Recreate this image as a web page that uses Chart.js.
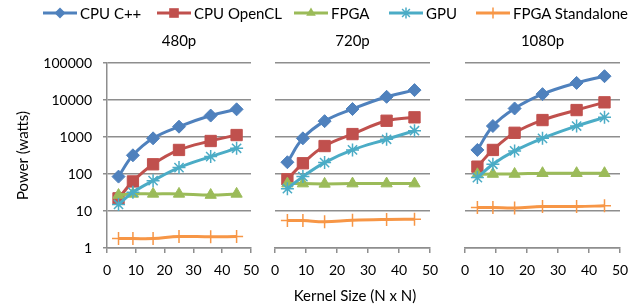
<!DOCTYPE html>
<html><head><meta charset="utf-8">
<script src="https://cdn.jsdelivr.net/npm/chart.js@4"></script>
<style>
html,body{margin:0;padding:0;background:#fff;}
#wrap{position:relative;width:635px;height:308px;overflow:hidden;font-family:Lato, "Open Sans", sans-serif;color:#000;}
canvas.c{position:absolute;left:0;top:0;}
.t{position:absolute;font-size:15px;white-space:nowrap;transform:translate(-50%,-50%);line-height:1;}
.lg{position:absolute;top:13px;transform:translateY(-50%);display:flex;align-items:center;font-size:15px;white-space:nowrap;line-height:1;}
.lg canvas{margin-right:3px;}
</style></head><body>
<div id="wrap">
  <canvas id="c1" class="c" width="635" height="308"></canvas>
  <canvas id="c2" class="c" width="635" height="308"></canvas>
  <canvas id="c3" class="c" width="635" height="308"></canvas>
  <div id="legend"></div>
  <div id="titles"></div>
  <div class="t" style="left:355px;top:295px;">Kernel Size (N x N)</div>
</div>
<script>
// ---- data ----
const kernelSizes = [4, 9, 16, 25, 36, 45];
const panelTitles = ['480p', '720p', '1080p'];
const seriesNames = ['CPU C++', 'CPU OpenCL', 'FPGA', 'GPU', 'FPGA Standalone'];
const yTickValues = [1, 10, 100, 1000, 10000, 100000];
const xTickValues = [0, 10, 20, 30, 40, 50];

const cpuCpp480  = [85, 320, 920, 1900, 3800, 5600];
const cpuOcl480  = [22, 63, 183, 447, 780, 1130];
const fpga480    = [27, 29, 29, 29, 27, 29];
const gpu480     = [15, 32, 66, 149, 295, 495];
const fpgaSa480  = [1.8, 1.8, 1.8, 2.05, 2.0, 2.05];

const cpuCpp720  = [208, 920, 2680, 5700, 12200, 18500];
const cpuOcl720  = [72, 195, 570, 1200, 2750, 3400];
const fpga720    = [55, 55, 54, 55, 55, 55];
const gpu720     = [40, 85, 203, 447, 868, 1480];
const fpgaSa720  = [5.5, 5.5, 5.1, 5.6, 5.9, 6.0];

const cpuCpp1080 = [447, 1980, 5900, 14400, 29000, 44000];
const cpuOcl1080 = [158, 447, 1300, 2870, 5350, 8650];
const fpga1080   = [98, 100, 100, 105, 105, 105];
const gpu1080    = [80, 183, 420, 920, 1980, 3400];
const fpgaSa1080 = [12.4, 12.4, 12.0, 13.2, 13.2, 13.8];

const panelSeries = [
  [cpuCpp480, cpuOcl480, fpga480, gpu480, fpgaSa480],
  [cpuCpp720, cpuOcl720, fpga720, gpu720, fpgaSa720],
  [cpuCpp1080, cpuOcl1080, fpga1080, gpu1080, fpgaSa1080]
];

// ---- styles ----
const seriesStyle = [
  {color: '#4F81BD', point: 'rectRot',  r: 6.5, bw: 1},
  {color: '#C0504D', point: 'rect',     r: 8,   bw: 1},
  {color: '#9BBB59', point: 'triangle', r: 6.5, bw: 1},
  {color: '#4BACC6', point: 'star',     r: 6.5, bw: 1.5},
  {color: '#F79646', point: 'cross',    r: 6.5, bw: 1.5}
];
const FONT = 'Lato, "Open Sans", sans-serif';
const GRID = '#8e8e8e';
// plot areas [left, right] in px
const plotX = [[107, 251], [275, 430], [465, 620]];
const plotTop = 63, plotBottom = 248, W = 635, H = 308;

function makeChart(id, p) {
  const first = p === 0;
  const datasets = panelSeries[p].map((vals, i) => ({
    label: seriesNames[i],
    data: kernelSizes.map((k, j) => ({x: k, y: vals[j]})),
    borderColor: seriesStyle[i].color,
    backgroundColor: seriesStyle[i].color,
    borderWidth: 3,
    tension: 0.4,
    pointStyle: seriesStyle[i].point,
    pointRadius: seriesStyle[i].r,
    pointBorderWidth: seriesStyle[i].bw,
    pointBorderColor: seriesStyle[i].color,
    pointBackgroundColor: seriesStyle[i].color,
    order: 4 - i
  }));
  return new Chart(document.getElementById(id), {
    type: 'line',
    data: {datasets},
    options: {
      responsive: false,
      animation: false,
      events: [],
      layout: {padding: {left: first ? 0 : plotX[p][0], right: W - plotX[p][1], top: plotTop, bottom: 0}},
      plugins: {legend: {display: false}, tooltip: {enabled: false}, title: {display: false}},
      scales: {
        x: {
          type: 'linear', min: 0, max: 50,
          afterBuildTicks: s => { s.ticks = xTickValues.map(v => ({value: v})); },
          afterFit: s => { s.height = H - plotBottom; s.paddingLeft = 0; s.paddingRight = 0; },
          ticks: {font: {family: FONT, size: 14}, color: '#000', padding: 9, maxRotation: 0, autoSkip: false},
          grid: {drawOnChartArea: false, drawTicks: true, tickLength: 5, color: GRID, lineWidth: 1.5},
          border: {display: true, color: GRID, width: 1.5}
        },
        y: {
          type: 'logarithmic', min: 1, max: 100000,
          afterBuildTicks: s => { s.ticks = yTickValues.map(v => ({value: v})); },
          afterFit: s => { s.width = first ? plotX[0][0] : 0; s.paddingTop = 0; s.paddingBottom = 0; },
          ticks: {display: first, font: {family: FONT, size: 14}, color: '#000', padding: 11,
                  callback: v => String(v)},
          grid: {drawOnChartArea: true, drawTicks: first, tickLength: 4, color: GRID, lineWidth: 1.5},
          border: {display: first, color: GRID, width: 1.5},
          title: {display: first, text: 'Power (watts)', font: {family: FONT, size: 15}, color: '#000',
                  padding: {top: 14, bottom: 0}}
        }
      }
    }
  });
}
makeChart('c1', 0);
makeChart('c2', 1);
makeChart('c3', 2);

// titles
const titlesDiv = document.getElementById('titles');
panelTitles.forEach((t, p) => {
  const d = document.createElement('div');
  d.className = 't';
  d.style.left = ((plotX[p][0] + plotX[p][1]) / 2) + 'px';
  d.style.top = '40px';
  d.textContent = t;
  titlesDiv.appendChild(d);
});

// legend
const legendLeft = [43, 157, 294, 389, 476];
const legendDiv = document.getElementById('legend');
function drawMarker(ctx, st, x, y) {
  ctx.fillStyle = st.color; ctx.strokeStyle = st.color;
  const r = st.r * 0.85;
  ctx.beginPath();
  if (st.point === 'rectRot') {
    ctx.moveTo(x, y - r); ctx.lineTo(x + r, y); ctx.lineTo(x, y + r); ctx.lineTo(x - r, y); ctx.closePath(); ctx.fill();
  } else if (st.point === 'rect') {
    const s = r * Math.SQRT1_2; ctx.rect(x - s, y - s, 2 * s, 2 * s); ctx.fill();
  } else if (st.point === 'triangle') {
    ctx.moveTo(x, y - r); ctx.lineTo(x + r * 0.866, y + r * 0.5); ctx.lineTo(x - r * 0.866, y + r * 0.5); ctx.closePath(); ctx.fill();
  } else if (st.point === 'star') {
    ctx.lineWidth = 1.5;
    for (let a = 0; a < 4; a++) {
      const ang = a * Math.PI / 4;
      ctx.moveTo(x - r * Math.cos(ang), y - r * Math.sin(ang)); ctx.lineTo(x + r * Math.cos(ang), y + r * Math.sin(ang));
    }
    ctx.stroke();
  } else {
    ctx.lineWidth = 1.5;
    ctx.moveTo(x, y - r); ctx.lineTo(x, y + r); ctx.stroke();
  }
}
seriesNames.forEach((name, i) => {
  const item = document.createElement('div');
  item.className = 'lg';
  item.style.left = legendLeft[i] + 'px';
  const cv = document.createElement('canvas');
  cv.width = 34; cv.height = 16;
  const ctx = cv.getContext('2d');
  ctx.strokeStyle = seriesStyle[i].color; ctx.lineWidth = 3;
  ctx.beginPath(); ctx.moveTo(0, 8); ctx.lineTo(34, 8); ctx.stroke();
  drawMarker(ctx, seriesStyle[i], 17, 8);
  item.appendChild(cv);
  const sp = document.createElement('span');
  sp.textContent = name;
  item.appendChild(sp);
  legendDiv.appendChild(item);
});
</script>
</body></html>
